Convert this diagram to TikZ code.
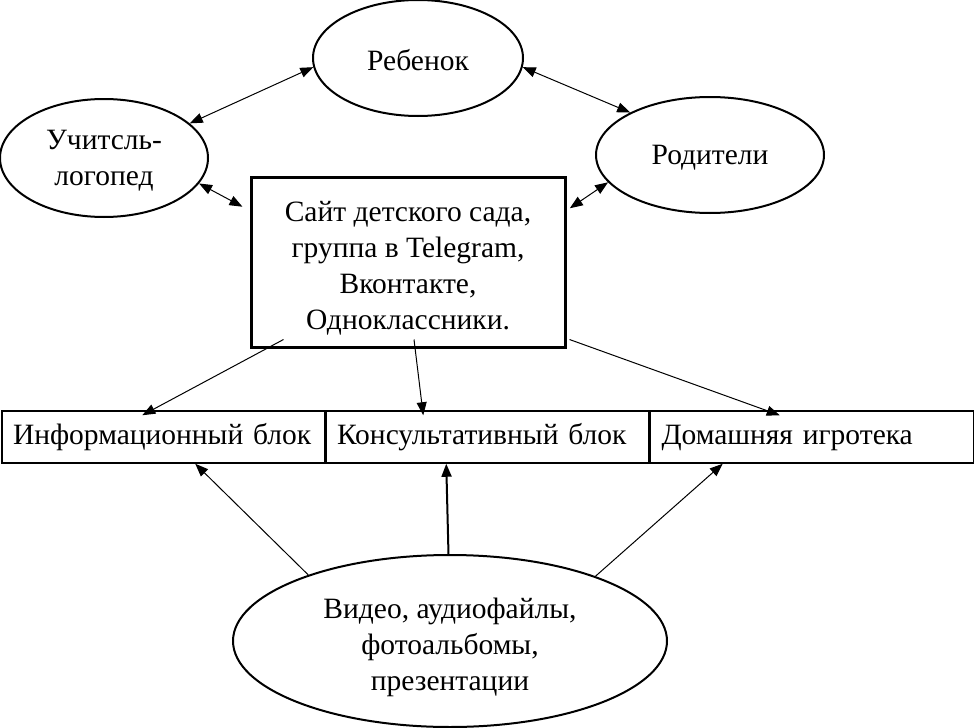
\documentclass[tikz,border=0pt]{standalone}
\usepackage{fontspec}
\setmainfont{Liberation Serif}
\usetikzlibrary{shapes.geometric,arrows.meta,calc}
\begin{document}
\begin{tikzpicture}[x=1pt,y=-1pt,
  txt/.style={font=\fontsize{29.5}{36}\selectfont, align=center, inner sep=0pt},
  oval/.style={ellipse, draw, line width=2pt, inner sep=0pt},
  mainbox/.style={rectangle, draw, line width=3pt, inner sep=0pt},
  cell/.style={rectangle, draw, line width=1.5pt, inner xsep=11pt, inner ysep=0pt,
     text width=301pt, align=left, minimum height=52pt, text height=21pt, text depth=7pt,
     font=\fontsize{29.5}{36}\selectfont},
  tipA/.tip={Triangle[length=13pt,width=10pt]},
  dbl/.style={tipA-tipA, line width=1pt},
  one/.style={-tipA, line width=1pt},
]
\useasboundingbox (0,0) rectangle (975,728);

\node[oval, minimum width=210pt, minimum height=116pt] (reb) at (418,58) {};
\node[txt] (rebt) at ($(reb.center)+(0,2)$) {Ребенок};
\node[oval, minimum width=208pt, minimum height=118pt] (uch) at (104,158) {};
\node[txt] (ucht) at ($(uch.center)+(0,3)$) {Учитсль-\\логопед};
\node[oval, minimum width=228pt, minimum height=116pt] (rod) at (710,155) {};
\node[txt] (rodt) at ($(rod.center)+(0,3)$) {Родители};
\node[mainbox, minimum width=314pt, minimum height=170pt] (box) at (408,262) {};
\node[txt] (boxt) at ($(box.center)+(0,6)$)
  {Сайт детского сада,\\группа в Telegram,\\Вконтакте,\\Одноклассники.};
\node[oval, minimum width=434pt, minimum height=172pt] (bot) at (450,641) {};
\node[txt] (bott) at ($(bot.center)+(0,6)$)
  {Видео, аудиофайлы,\\фотоальбомы,\\презентации};

\node[cell] (info) at (163.5,437) {Информационный блок};
\node[cell] (kons) at (487.5,437) {Консультативный блок};
\node[cell] (dom) at (812,437) {Домашняя игротека};

% top connectors
\draw[dbl] (reb.185) -- (uch.22);
\draw[dbl] (reb.355) -- (rod.152);
\draw[dbl, shorten >=8pt] (uch.345) -- (box.162);
\draw[dbl, shorten >=4pt] (rod.195) -- (box.18);

% box to blocks
\draw[one] ($(box.south west)+(34,-9)$) -- ($(info.north west)+(141,5)$);
\draw[one] ($(box.south)+(6,-9)$) -- ($(kons.north west)+(98,5)$);
\draw[one] ($(box.south east)+(3,-9)$) -- ($(dom.north west)+(130,5)$);

% bottom ellipse to blocks
\draw[one] (bot.155) -- ($(info.south west)+(194,0)$);
\draw[-tipA, line width=2pt] (bot.91) -- ($(kons.south west)+(121,0)$);
\draw[one] (bot.24) -- ($(dom.south west)+(73,0)$);
\end{tikzpicture}
\end{document}
